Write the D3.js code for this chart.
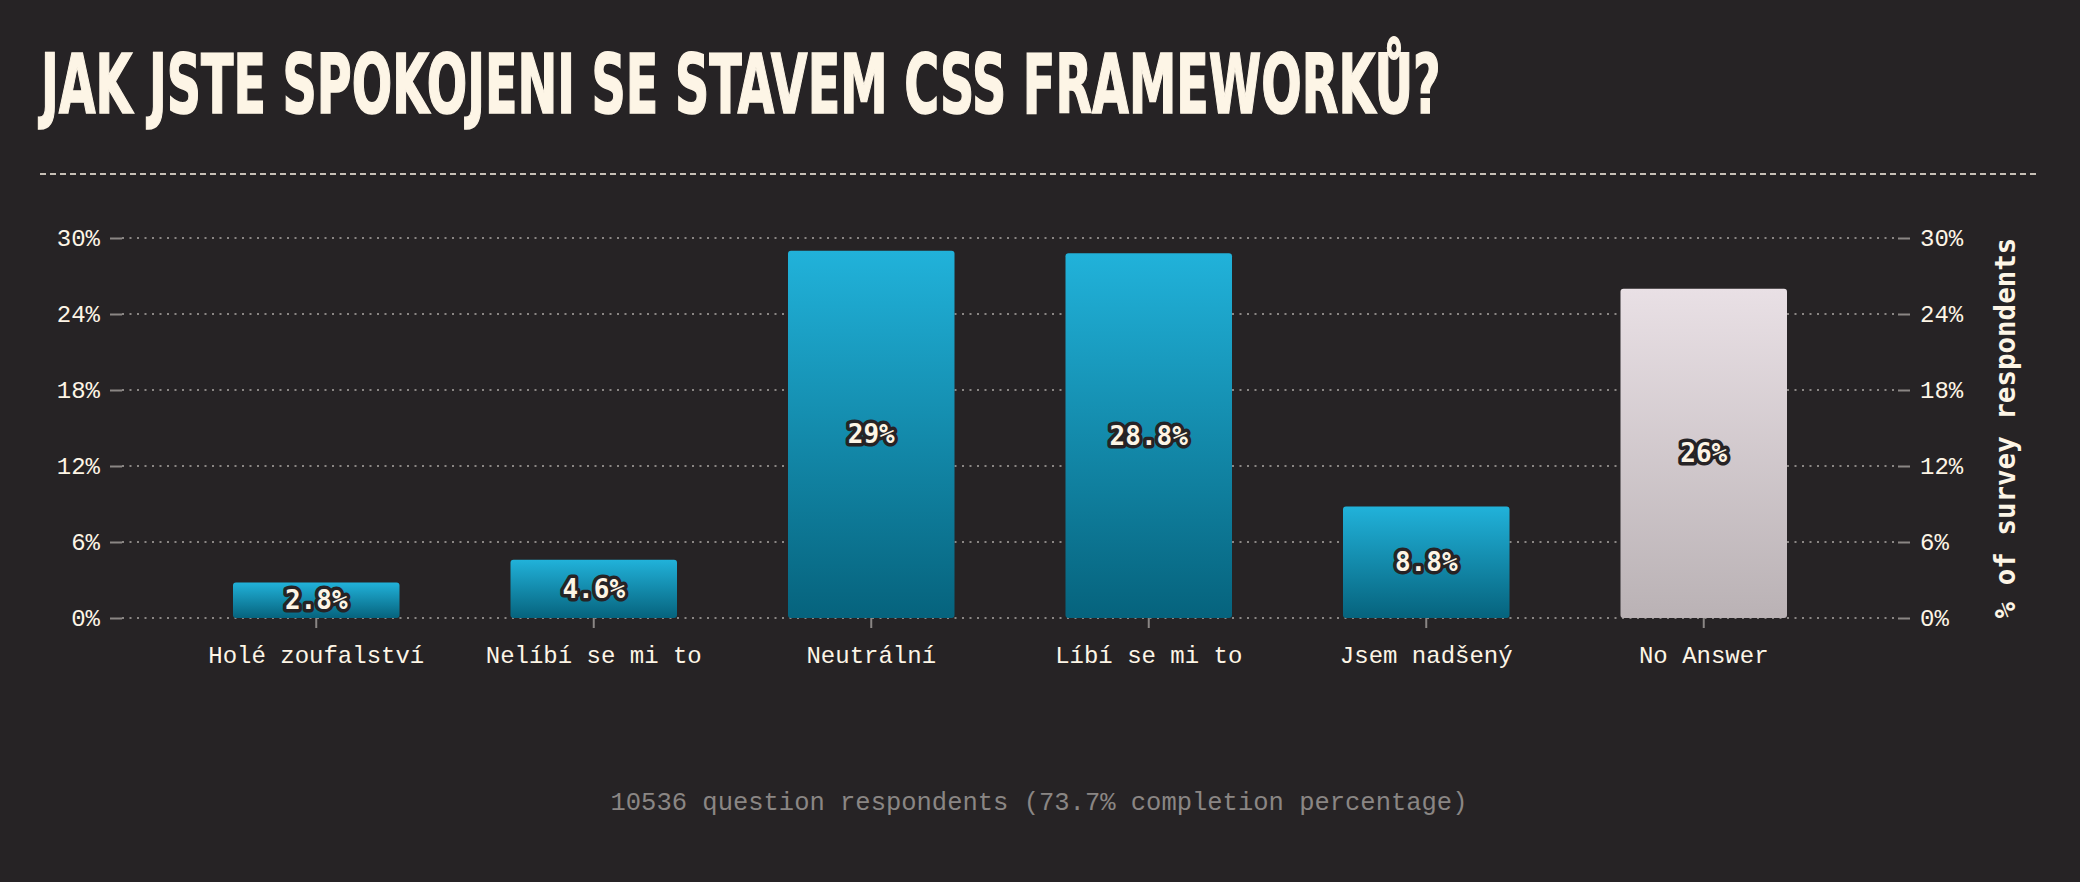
<!DOCTYPE html>
<html>
<head>
<meta charset="utf-8">
<script src="https://cdn.jsdelivr.net/npm/d3@7"></script>
<style>
  html, body { margin: 0; padding: 0; background: #262325; }
  svg { display: block; }
</style>
</head>
<body>
<script>
// chart data
const categories = ['Holé zoufalství', 'Nelíbí se mi to', 'Neutrální', 'Líbí se mi to', 'Jsem nadšený', 'No Answer'];
const values = [2.8, 4.6, 29, 28.8, 8.8, 26];
const yTicks = [0, 6, 12, 18, 24, 30];

const title = 'JAK JSTE SPOKOJENI SE STAVEM CSS FRAMEWORKŮ?';
const axisTitle = '% of survey respondents';
const footer = '10536 question respondents (73.7% completion percentage)';

const W = 2080, H = 882;
const cream = '#fdf5e6';
const grey = '#8a8684';
const mono = '"Liberation Mono", "DejaVu Sans Mono", monospace';

const svg = d3.select('body')
    .append('svg')
    .attr('width', W)
    .attr('height', H)
    .style('background', '#262325');

// gradients
const defs = svg.append('defs');
const blue = defs.append('linearGradient')
    .attr('id', 'gBlue')
    .attr('x1', 0).attr('y1', 0).attr('x2', 0).attr('y2', 1);
blue.append('stop').attr('offset', '0%').attr('stop-color', '#21b2da');
blue.append('stop').attr('offset', '100%').attr('stop-color', '#06637d');

const pale = defs.append('linearGradient')
    .attr('id', 'gGrey')
    .attr('x1', 0).attr('y1', 0).attr('x2', 0).attr('y2', 1);
pale.append('stop').attr('offset', '0%').attr('stop-color', '#e9e0e5');
pale.append('stop').attr('offset', '100%').attr('stop-color', '#bab2b5');

// title, squeezed horizontally to look condensed
const titleText = svg.append('text')
    .style('font-family', '"DejaVu Sans Condensed", sans-serif')
    .style('font-weight', 'bold')
    .style('font-size', '82px')
    .attr('fill', cream)
    .attr('stroke', cream)
    .attr('stroke-width', 1.5)
    .text(title);
const natural = titleText.node().getComputedTextLength();
titleText.attr('transform', `translate(41,113) scale(${1400 / natural},1)`);

svg.append('line')
    .attr('x1', 40).attr('x2', 2040)
    .attr('y1', 174).attr('y2', 174)
    .attr('stroke', cream)
    .attr('stroke-width', 1.5)
    .attr('stroke-dasharray', '6 4');

// scales
const left = 122, right = 1898;
const x = d3.scaleBand()
    .domain(categories)
    .range([left, right])
    .padding(0.4);

const y = d3.scaleLinear()
    .domain([0, 30])
    .range([618, 238]);

// grid
svg.append('g')
    .selectAll('line')
    .data(yTicks)
    .join('line')
    .attr('x1', left).attr('x2', right)
    .attr('y1', d => y(d)).attr('y2', d => y(d))
    .attr('stroke', grey)
    .attr('stroke-width', 2)
    .attr('stroke-dasharray', '2 5.5');

function styleAxis(g) {
    g.select('.domain').remove();
    g.selectAll('.tick line').attr('stroke', grey).attr('stroke-width', 2);
    g.selectAll('.tick text')
        .attr('fill', cream)
        .style('font-family', mono)
        .style('font-size', '24px');
}

svg.append('g')
    .attr('transform', `translate(${left},0)`)
    .call(d3.axisLeft(y).tickValues(yTicks).tickFormat(d => d + '%').tickSize(12).tickPadding(10))
    .call(styleAxis);

svg.append('g')
    .attr('transform', `translate(${right},0)`)
    .call(d3.axisRight(y).tickValues(yTicks).tickFormat(d => d + '%').tickSize(12).tickPadding(10))
    .call(styleAxis);

svg.append('g')
    .attr('transform', `translate(0,${y(0)})`)
    .call(d3.axisBottom(x).tickSize(10).tickPadding(18))
    .call(styleAxis);

// bars
svg.append('g')
    .selectAll('rect')
    .data(values)
    .join('rect')
    .attr('x', (d, i) => x(categories[i]))
    .attr('y', d => y(d))
    .attr('width', x.bandwidth())
    .attr('height', d => y(0) - y(d))
    .attr('rx', 3)
    .attr('fill', (d, i) => categories[i] === 'No Answer' ? 'url(#gGrey)' : 'url(#gBlue)');

// value labels
svg.append('g')
    .selectAll('text')
    .data(values)
    .join('text')
    .attr('x', (d, i) => x(categories[i]) + x.bandwidth() / 2)
    .attr('y', d => (y(d) + y(0)) / 2)
    .attr('dy', '0.35em')
    .attr('text-anchor', 'middle')
    .style('font-family', '"DejaVu Sans Mono", monospace')
    .style('font-weight', 'bold')
    .style('font-size', '26px')
    .style('paint-order', 'stroke')
    .attr('stroke', '#262325')
    .attr('stroke-width', 7)
    .attr('stroke-linejoin', 'round')
    .attr('fill', cream)
    .text(d => d + '%');

// right axis title
svg.append('text')
    .attr('transform', `translate(2005,${(y(0) + y(30)) / 2}) rotate(-90)`)
    .attr('text-anchor', 'middle')
    .attr('dy', '0.35em')
    .style('font-family', '"DejaVu Sans Mono", monospace')
    .style('font-weight', 'bold')
    .style('font-size', '27.5px')
    .attr('fill', cream)
    .text(axisTitle);

// footer
svg.append('text')
    .attr('x', 1039)
    .attr('y', 810)
    .attr('text-anchor', 'middle')
    .style('font-family', mono)
    .style('font-size', '25.5px')
    .attr('fill', grey)
    .text(footer);
</script>
</body>
</html>
